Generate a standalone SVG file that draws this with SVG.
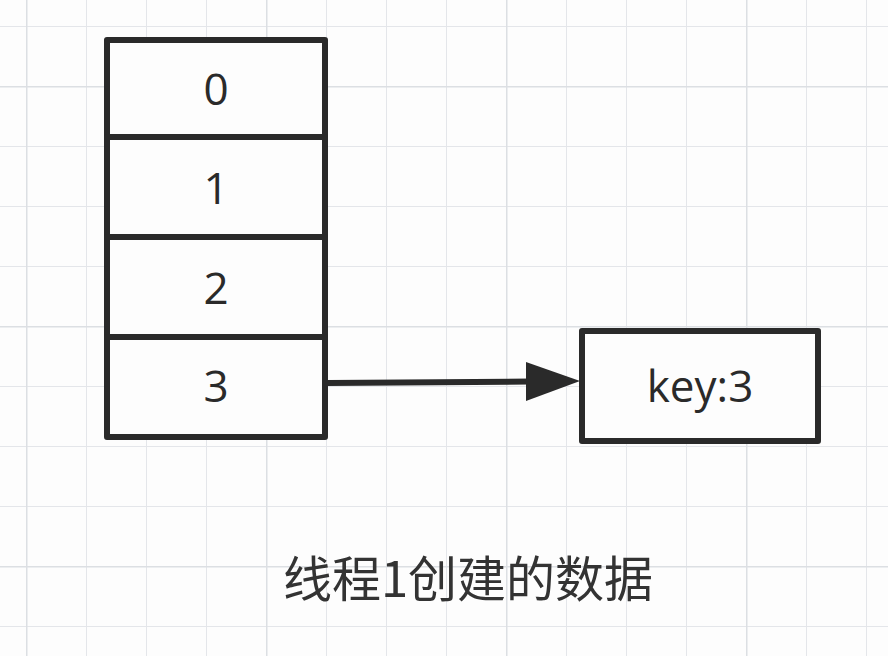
<svg xmlns="http://www.w3.org/2000/svg" width="888" height="656" viewBox="0 0 888 656">
<defs>
<pattern id="g" x="26" y="26" width="60" height="60" patternUnits="userSpaceOnUse"><path d="M0 0H60M0 0V60" stroke="#e4e6ea" stroke-width="2" fill="none"/></pattern>
<pattern id="G" x="26" y="86" width="240" height="240" patternUnits="userSpaceOnUse"><path d="M0 0H240M0 0V240" stroke="#dcdfe3" stroke-width="3" fill="none"/></pattern>
</defs>
<style>.b{fill:#fdfdfd;stroke:#2a2a2a;stroke-width:6;stroke-linejoin:round}.t{font-family:"Open Sans","Liberation Sans",sans-serif;font-size:44px;fill:#2a2a2a;text-anchor:middle}</style>
<rect width="888" height="656" fill="#fdfdfd"/>
<rect width="888" height="656" fill="url(#g)"/>
<rect width="888" height="656" fill="url(#G)"/>
<g id="n0"><rect class="b" x="107" y="40" width="218" height="97"/><text class="t" x="216" y="105">0</text></g>
<g id="n1"><rect class="b" x="107" y="137" width="218" height="100"/><text class="t" x="216" y="204">1</text></g>
<g id="n2"><rect class="b" x="107" y="237" width="218" height="100"/><text class="t" x="216" y="304">2</text></g>
<g id="n3"><rect class="b" x="107" y="337" width="218" height="100"/><text class="t" x="216" y="402">3</text></g>
<g id="key"><rect class="b" x="582" y="331" width="236" height="110"/><text class="t" x="700" y="402">key:3</text></g>
<g id="connectors"><line x1="328" y1="383" x2="530" y2="381.5" stroke="#2a2a2a" stroke-width="6"/><path d="M526 362L580 381L526 401Z" fill="#2a2a2a"/></g>
<text x="468" y="597" style="font-family:'Noto Sans CJK SC',sans-serif;font-size:49px;fill:#333;text-anchor:middle">线程1创建的数据</text>
</svg>
